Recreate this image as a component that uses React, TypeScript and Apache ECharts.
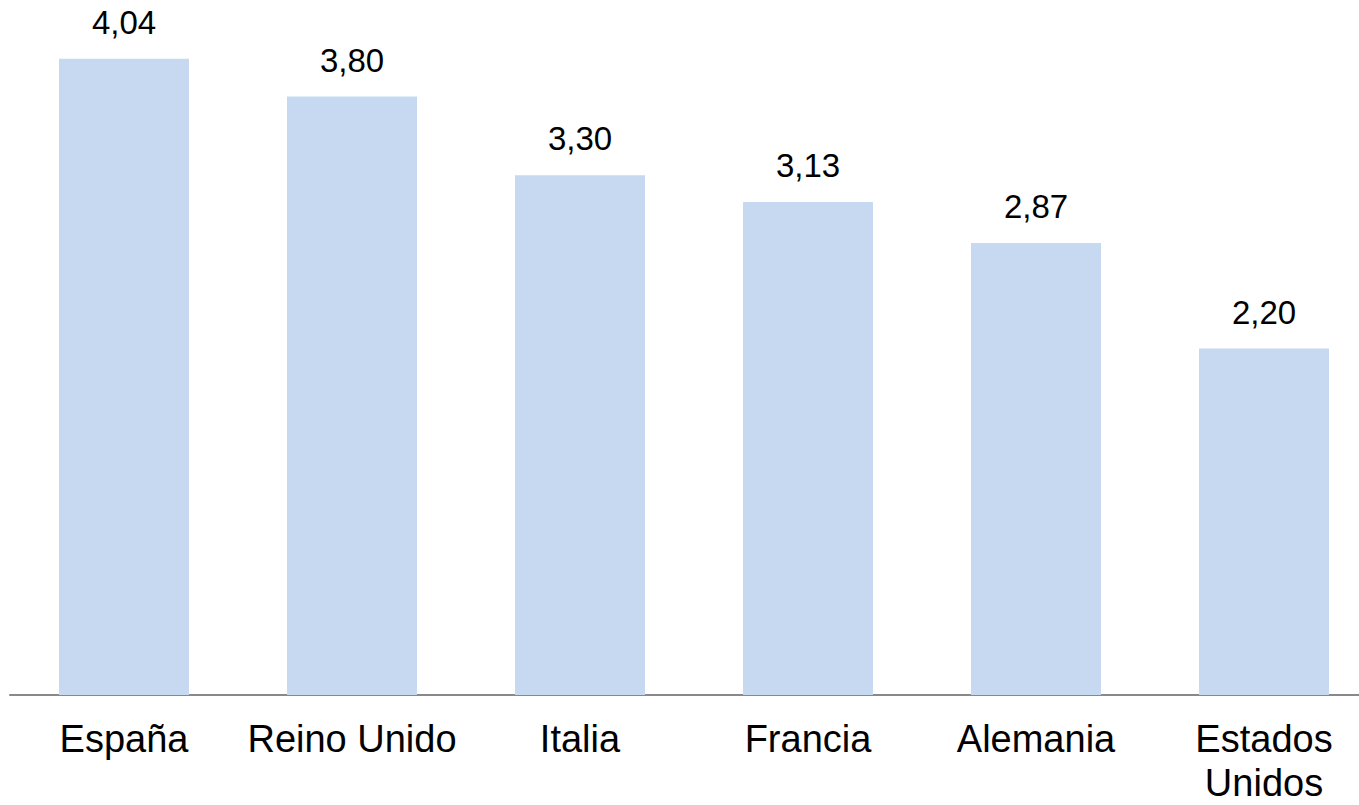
import React, { useEffect, useRef } from "react";
import * as echarts from "echarts";

const categories = ["España", "Reino Unido", "Italia", "Francia", "Alemania", "Estados\nUnidos"];
const values = [4.04, 3.8, 3.3, 3.13, 2.87, 2.2];

export default function App() {
  const ref = useRef<HTMLDivElement>(null);
  useEffect(() => {
    if (!ref.current) return;
    const chart = echarts.init(ref.current, null, { renderer: "svg" });
    chart.setOption({
      animation: false,
      backgroundColor: "#ffffff",
      grid: { left: 10, right: 0, top: 2, bottom: 109, containLabel: false },
      xAxis: {
        type: "category",
        data: categories,
        axisLine: { show: true, lineStyle: { color: "#898989", width: 2 } },
        axisTick: { show: false },
        axisLabel: {
          interval: 0,
          margin: 22,
          fontSize: 38,
          lineHeight: 44,
          color: "#000",
          fontFamily: "Liberation Sans, Arial, sans-serif",
        },
      },
      yAxis: {
        type: "value",
        min: 0,
        max: 4.4,
        show: false,
        splitLine: { show: false },
      },
      series: [
        {
          type: "bar",
          data: values,
          barWidth: 130,
          itemStyle: { color: "#C6D9F1" },
          label: {
            show: true,
            position: "top",
            distance: 20,
            fontSize: 33,
            color: "#000",
            fontFamily: "Liberation Sans, Arial, sans-serif",
            formatter: (p: any) => p.value.toFixed(2).replace(".", ","),
          },
        },
      ],
    });
    return () => chart.dispose();
  }, []);
  return (
    <div
      style={{
        position: "absolute",
        left: 0,
        top: 0,
        width: 1359,
        height: 805,
        overflow: "hidden",
        background: "#ffffff",
      }}
    >
      <div ref={ref} style={{ width: 1378, height: 805 }} />
    </div>
  );
}
